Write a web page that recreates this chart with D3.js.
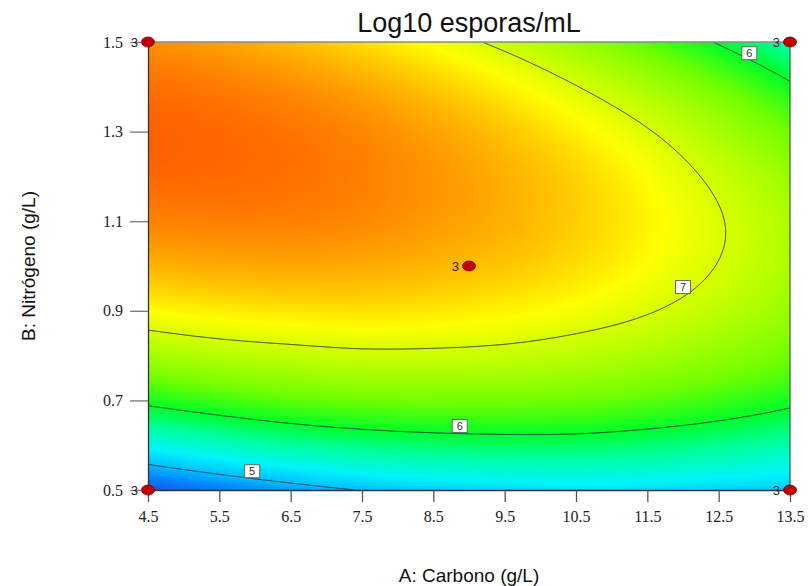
<!DOCTYPE html>
<html>
<head>
<meta charset="utf-8">
<script src="https://d3js.org/d3.v7.min.js"></script>
<style>
body { margin:0; background:#fff; }
svg { display:block; }
.tick text { font-family: "Liberation Serif", "DejaVu Serif", serif; font-size:16px; fill:#222; }
</style>
</head>
<body>
<svg width="808" height="586"></svg>
<script>
// grid: carbono (A) columns, nitrogeno (B) rows
var carbono = [4.5, 5.5, 6.5, 7.5, 8.5, 9.5, 10.5, 11.5, 12.5, 13.5];
var nitrogeno = [0.5, 0.6, 0.7, 0.8, 0.9, 1.0, 1.1, 1.2, 1.3, 1.4, 1.5];
// Log10 esporas/mL, one array per nitrogeno level
var logB05 = [4.50, 4.70, 4.87, 5.01, 5.10, 5.15, 5.18, 5.17, 5.12, 5.06];
var logB06 = [5.35, 5.52, 5.66, 5.76, 5.82, 5.85, 5.85, 5.80, 5.72, 5.61];
var logB07 = [6.08, 6.22, 6.33, 6.40, 6.43, 6.43, 6.40, 6.32, 6.21, 6.07];
var logB08 = [6.70, 6.81, 6.88, 6.93, 6.93, 6.90, 6.83, 6.73, 6.59, 6.42];
var logB09 = [7.20, 7.28, 7.32, 7.34, 7.31, 7.25, 7.15, 7.02, 6.85, 6.64];
var logB10 = [7.58, 7.63, 7.65, 7.63, 7.57, 7.48, 7.36, 7.19, 6.99, 6.76];
var logB11 = [7.85, 7.87, 7.86, 7.81, 7.72, 7.60, 7.44, 7.25, 7.02, 6.76];
var logB12 = [8.00, 7.99, 7.95, 7.87, 7.75, 7.60, 7.42, 7.19, 6.93, 6.64];
var logB13 = [8.04, 8.00, 7.93, 7.82, 7.67, 7.49, 7.27, 7.02, 6.73, 6.40];
var logB14 = [7.96, 7.89, 7.79, 7.65, 7.47, 7.26, 7.01, 6.73, 6.41, 6.05];
var logB15 = [7.77, 7.67, 7.53, 7.36, 7.16, 6.92, 6.64, 6.32, 5.97, 5.59];

var contourLevels = [5, 6, 7];
// where the level numbers sit on their lines
var labelLevel = [7, 6, 5, 6];
var labelA = [12.0, 8.87, 5.96, 12.93];
var labelB = [0.953, 0.643, 0.542, 1.475];
// design points (replicates)
var pointA = [4.5, 4.5, 13.5, 13.5, 9.0];
var pointB = [0.5, 1.5, 1.5, 0.5, 1.0];
var pointN = [3, 3, 3, 3, 3];
var aTicks = [4.5, 5.5, 6.5, 7.5, 8.5, 9.5, 10.5, 11.5, 12.5, 13.5];
var bTicks = [0.5, 0.7, 0.9, 1.1, 1.3, 1.5];

var rows = [logB05, logB06, logB07, logB08, logB09, logB10, logB11, logB12, logB13, logB14, logB15];

var margin = {top: 42, right: 18, bottom: 96, left: 148};
var width = 808, height = 586;
var W = width - margin.left - margin.right;   // 642
var H = height - margin.top - margin.bottom;  // 448

var x = d3.scaleLinear().domain([4.5, 13.5]).range([0, W]);
var y = d3.scaleLinear().domain([0.5, 1.5]).range([H, 0]);

var color = d3.scaleLinear()
  .domain([4.5, 4.8, 5.0, 5.3, 5.7, 6.0, 6.4, 7.0, 7.2, 7.5, 7.8, 8.05])
  .range(["#1e50e6", "#008cff", "#00beff", "#00f5fa", "#00ff96", "#00ff28",
          "#6eff00", "#d7ff00", "#ffff00", "#ffc300", "#ff8c00", "#ff5f00"])
  .clamp(true);

// Catmull-Rom along a sampled array, u = fractional index
function cr(arr, u) {
  var n = arr.length;
  u = Math.max(0, Math.min(n - 1, u));
  var i = Math.min(n - 2, Math.floor(u)), t = u - i;
  function g(k) {
    if (k < 0) return 3 * arr[0] - 3 * arr[1] + arr[2];
    if (k > n - 1) return 3 * arr[n - 1] - 3 * arr[n - 2] + arr[n - 3];
    return arr[k];
  }
  var p0 = g(i - 1), p1 = g(i), p2 = g(i + 1), p3 = g(i + 2);
  return 0.5 * (2 * p1 + (-p0 + p2) * t + (2 * p0 - 5 * p1 + 4 * p2 - p3) * t * t +
    (-p0 + 3 * p1 - 3 * p2 + p3) * t * t * t);
}

var P = 4, GW = W + 2 * P, GH = H + 2 * P;
var stepA = carbono[1] - carbono[0], stepB = nitrogeno[1] - nitrogeno[0];
// each row sampled per pixel column
var colRows = rows.map(function(r) {
  return d3.range(GW).map(function(i) {
    return cr(r, (x.invert(i - P + 0.5) - carbono[0]) / stepA);
  });
});
var field = new Float64Array(GW * GH);
for (var j = 0; j < GH; j++) {
  var v = (y.invert(j - P + 0.5) - nitrogeno[0]) / stepB;
  for (var i = 0; i < GW; i++) {
    var col = [];
    for (var k = 0; k < rows.length; k++) col.push(colRows[k][i]);
    field[j * GW + i] = cr(col, v);
  }
}

// colour raster
var canvas = document.createElement("canvas");
canvas.width = W; canvas.height = H;
var ctx = canvas.getContext("2d");
var img = ctx.createImageData(W, H);
for (var j = 0; j < H; j++) {
  for (var i = 0; i < W; i++) {
    var c = d3.rgb(color(field[(j + P) * GW + i + P]));
    var o = (j * W + i) * 4;
    img.data[o] = c.r; img.data[o + 1] = c.g; img.data[o + 2] = c.b; img.data[o + 3] = 255;
  }
}
ctx.putImageData(img, 0, 0);

var svg = d3.select("svg");
svg.append("defs").append("clipPath").attr("id", "plotclip")
  .append("rect").attr("width", W).attr("height", H);

var plot = svg.append("g").attr("transform", "translate(" + margin.left + "," + margin.top + ")");

plot.append("image")
  .attr("width", W).attr("height", H)
  .attr("preserveAspectRatio", "none")
  .attr("href", canvas.toDataURL());

var contours = d3.contours().size([GW, GH]).thresholds(contourLevels)(field);
plot.append("g").attr("clip-path", "url(#plotclip)")
  .append("g").attr("transform", "translate(" + (-P) + "," + (-P) + ")")
  .selectAll("path").data(contours).join("path")
  .attr("d", d3.geoPath())
  .attr("fill", "none")
  .attr("stroke", "#2b3340")
  .attr("stroke-width", 1);

// frame
plot.append("line").attr("x1", 0).attr("x2", W).attr("y1", 0).attr("y2", 0)
  .attr("stroke", "#8a8a8a").attr("stroke-width", 1.5);
plot.append("line").attr("x1", W).attr("x2", W).attr("y1", 0).attr("y2", H)
  .attr("stroke", "#3d5a3d").attr("stroke-width", 1.2);

var yAxis = plot.append("g")
  .call(d3.axisLeft(y).tickValues(bTicks).tickFormat(d3.format(".1f"))
    .tickSize(18).tickSizeOuter(0).tickPadding(7));
var xAxis = plot.append("g").attr("transform", "translate(0," + H + ")")
  .call(d3.axisBottom(x).tickValues(aTicks).tickFormat(d3.format(".1f"))
    .tickSize(12).tickSizeOuter(0).tickPadding(9));
yAxis.select(".domain").attr("stroke", "#333").attr("stroke-width", 1.3);
xAxis.select(".domain").attr("stroke", "#333").attr("stroke-width", 1.3);
yAxis.selectAll(".tick line").attr("stroke", "#777").attr("stroke-width", 1.3);
xAxis.selectAll(".tick line").attr("stroke", "#555").attr("stroke-width", 1.3);

// contour level labels
var labels = plot.append("g").selectAll("g").data(labelLevel).join("g")
  .attr("transform", function(d, i) { return "translate(" + x(labelA[i]) + "," + y(labelB[i]) + ")"; });
labels.append("rect")
  .attr("x", -7.5).attr("y", -6.5).attr("width", 15).attr("height", 13)
  .attr("fill", "#fff").attr("stroke", "#666").attr("stroke-width", 1);
labels.append("text")
  .attr("text-anchor", "middle").attr("dy", "0.36em")
  .style("font-family", "Liberation Sans, Arial, sans-serif").style("font-size", "11px")
  .attr("fill", "#333")
  .text(function(d) { return d; });

// design points
var pts = plot.append("g").selectAll("g").data(pointN).join("g")
  .attr("transform", function(d, i) { return "translate(" + x(pointA[i]) + "," + y(pointB[i]) + ")"; });
pts.append("ellipse").attr("rx", 6.5).attr("ry", 5)
  .attr("fill", "#c00000").attr("stroke", "#7a0000").attr("stroke-width", 0.8);
pts.append("text")
  .attr("x", -10).attr("dy", "0.36em").attr("text-anchor", "end")
  .style("font-family", "Liberation Sans, Arial, sans-serif").style("font-size", "13px")
  .attr("fill", "#222")
  .text(function(d) { return d; });

// titles
svg.append("text")
  .attr("x", margin.left + W / 2).attr("y", 32)
  .attr("text-anchor", "middle")
  .style("font-family", "Liberation Sans, Arial, sans-serif").style("font-size", "27px")
  .attr("fill", "#111")
  .text("Log10 esporas/mL");
svg.append("text")
  .attr("x", margin.left + W / 2).attr("y", 582)
  .attr("text-anchor", "middle")
  .style("font-family", "Liberation Sans, Arial, sans-serif").style("font-size", "19px")
  .attr("fill", "#111")
  .text("A: Carbono (g/L)");
svg.append("text")
  .attr("transform", "translate(35," + (margin.top + H / 2) + ") rotate(-90)")
  .attr("text-anchor", "middle")
  .style("font-family", "Liberation Sans, Arial, sans-serif").style("font-size", "19px")
  .attr("fill", "#111")
  .text("B: Nitrógeno (g/L)");
</script>
</body>
</html>
